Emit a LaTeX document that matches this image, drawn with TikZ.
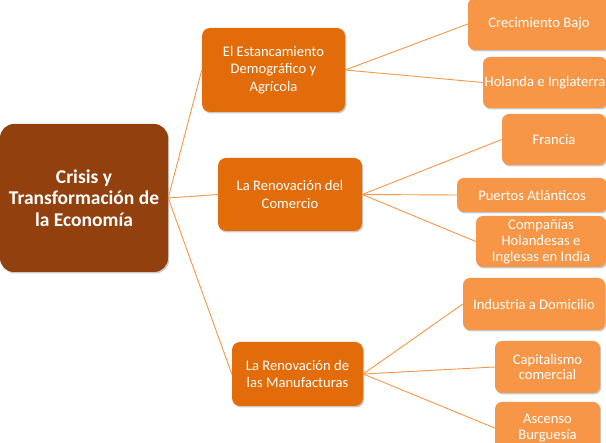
\documentclass[tikz,border=0pt]{standalone}
\usepackage{fontspec}
\setmainfont{Carlito}
\usetikzlibrary{shadows}
\definecolor{rootc}{HTML}{93400F}
\definecolor{midc}{HTML}{E36C0A}
\definecolor{leafc}{HTML}{F79646}
\definecolor{linec}{HTML}{F79646}
\tikzset{
  base/.style={inner sep=0pt, align=center, text=white, draw=none,
    drop shadow={shadow xshift=1.2pt, shadow yshift=-1.5pt, opacity=0.35, fill=black!60}},
  rootbox/.style={base, fill=rootc, rounded corners=14pt,
    font=\fontsize{19.5}{21.7}\selectfont\bfseries},
  midbox/.style={base, fill=midc, rounded corners=8pt,
    font=\fontsize{14.6}{17.5}\selectfont},
  leafbox/.style={base, fill=leafc, rounded corners=7pt,
    font=\fontsize{14.6}{15.8}\selectfont},
  conn/.style={draw=linec, line width=0.9pt}
}
\begin{document}
\begin{tikzpicture}[x=1pt,y=-1pt]
\useasboundingbox (0,0) rectangle (606,443);
\clip (0,0) rectangle (606,443);
\node[rootbox, minimum width=168pt, minimum height=148pt] (root) at (84,198)
  {Crisis y\\Transformación de\\la Economía};
\node[midbox, minimum width=143pt, minimum height=84pt] (b1) at (273.5,70)
  {El Estancamiento\\Demográfico y\\Agrícola};
\node[midbox, minimum width=144pt, minimum height=73pt] (b2) at (290,194.5)
  {La Renovación del\\Comercio};
\node[midbox, minimum width=131pt, minimum height=64pt] (b3) at (297.5,374)
  {La Renovación de\\las Manufacturas};
\node[leafbox, minimum width=142pt, minimum height=52pt] (c1) at (539,24)
  {Crecimiento Bajo};
\node[leafbox, minimum width=124pt, minimum height=51pt] (c2) at (545,82.5)
  {Holanda e Inglaterra};
\node[leafbox, minimum width=104pt, minimum height=51pt] (c3) at (554,139.5)
  {Francia};
\node[leafbox, minimum width=150pt, minimum height=34pt] (c4) at (532,195)
  {Puertos Atlánticos};
\node[leafbox, minimum width=130pt, minimum height=51pt] (c5) at (541,241.5)
  {Compañías\\Holandesas e\\Inglesas en India};
\node[leafbox, minimum width=142pt, minimum height=52pt] (c6) at (534,304)
  {Industria a Domicilio};
\node[leafbox, minimum width=105pt, minimum height=52pt] (c7) at (547.5,367)
  {Capitalismo\\comercial};
\node[leafbox, minimum width=105pt, minimum height=52pt] (c8) at (547.5,428)
  {Ascenso\\Burguesía};
\draw[conn] (root.east) -- (b1.west);
\draw[conn] (root.east) -- (b2.west);
\draw[conn] (root.east) -- (b3.west);
\draw[conn] (b1.east) -- (c1.west);
\draw[conn] (b1.east) -- (c2.west);
\draw[conn] (b2.east) -- (c3.west);
\draw[conn] (b2.east) -- (c4.west);
\draw[conn] (b2.east) -- (c5.west);
\draw[conn] (b3.east) -- (c6.west);
\draw[conn] (b3.east) -- (c7.west);
\draw[conn] (b3.east) -- (c8.west);
\end{tikzpicture}
\end{document}
